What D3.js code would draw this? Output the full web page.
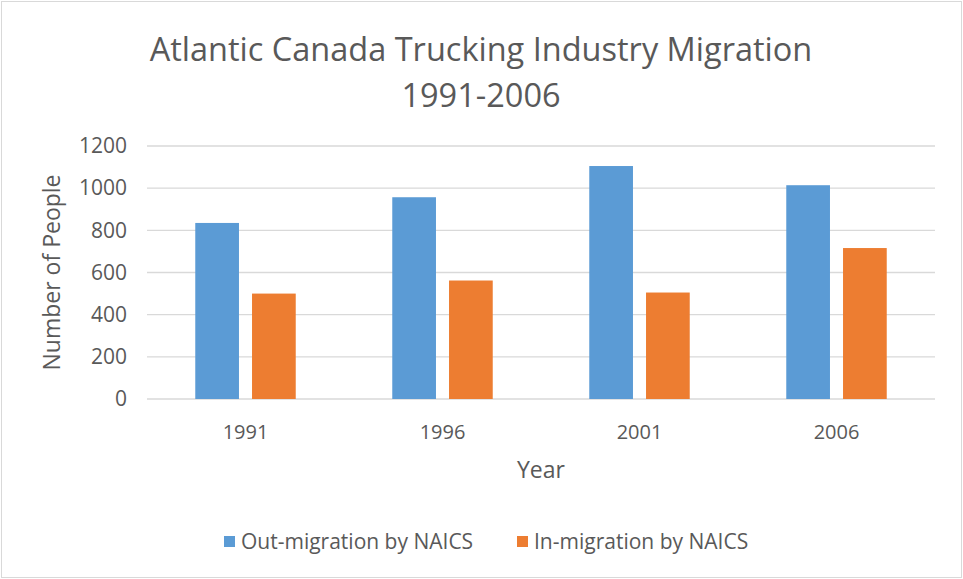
<!DOCTYPE html>
<html lang="en">
<head>
  <meta charset="UTF-8">
  <title>Atlantic Canada Trucking Industry Migration</title>
  <style>
  body { margin: 0; background: #fff; }
  #chart { display: block; }
  text { font-family: "Open Sans", "Noto Sans", sans-serif; fill: #595959; }
  .grid line { stroke: #d9d9d9; stroke-width: 1.3; }
  </style>
</head>
<body>
<svg id="chart"></svg>
<script src="https://d3js.org/d3.v7.min.js"></script>
<script>
// Data
const years = ["1991", "1996", "2001", "2006"];
const outMigration = [835, 957, 1105, 1014];
const inMigration = [500, 562, 505, 716];
const seriesNames = ["Out-migration by NAICS", "In-migration by NAICS"];
const yTicks = [0, 200, 400, 600, 800, 1000, 1200];

const W = 963, H = 579;
const margin = { top: 146, right: 28, bottom: 180, left: 147 };
const width = W - margin.left - margin.right;
const height = H - margin.top - margin.bottom;
const colors = ["#5b9bd5", "#ed7d31"];

const svg = d3.select("#chart").attr("width", W).attr("height", H);

// outer frame
svg.append("rect")
  .attr("x", 1.5).attr("y", 1.5)
  .attr("width", W - 3).attr("height", H - 3)
  .attr("fill", "#fff").attr("stroke", "#d9d9d9");

const g = svg.append("g").attr("transform", `translate(${margin.left},${margin.top})`);

const x = d3.scaleBand().domain(years).range([0, width]);
const y = d3.scaleLinear().domain([0, 1200]).range([height, 0]);
const x1 = d3.scaleBand().domain([0, 1]).range([x.bandwidth() * 0.245, x.bandwidth() * 0.755]).paddingInner(0.23);

// gridlines
g.append("g").attr("class", "grid")
  .selectAll("line").data(yTicks).enter().append("line")
  .attr("x1", 0).attr("x2", width)
  .attr("y1", d => y(d)).attr("y2", d => y(d));

// y axis labels
const yAxis = g.append("g")
  .call(d3.axisLeft(y).tickValues(yTicks).tickFormat(d3.format("d")).tickSize(0).tickPadding(20));
yAxis.select(".domain").remove();
yAxis.selectAll("text").style("font-size", "21px").style("fill", "#595959");

// x axis labels
const xAxis = g.append("g")
  .attr("transform", `translate(0,${height})`)
  .call(d3.axisBottom(x).tickSize(0).tickPadding(26));
xAxis.select(".domain").remove();
xAxis.selectAll("text").style("font-size", "20px").style("fill", "#595959");

// bars
const rows = years.map((yr, i) => ({ year: yr, values: [outMigration[i], inMigration[i]] }));
g.selectAll(".group").data(rows).enter().append("g")
  .attr("transform", d => `translate(${x(d.year)},0)`)
  .selectAll("rect").data(d => d.values.map((v, k) => ({ k, v }))).enter().append("rect")
  .attr("x", d => x1(d.k))
  .attr("width", x1.bandwidth())
  .attr("y", d => y(d.v))
  .attr("height", d => height - y(d.v))
  .attr("fill", d => colors[d.k]);

// title
svg.append("text")
  .attr("x", 481).attr("y", 61)
  .attr("text-anchor", "middle")
  .style("font-size", "32.5px")
  .text("Atlantic Canada Trucking Industry Migration");
svg.append("text")
  .attr("x", 481).attr("y", 107)
  .attr("text-anchor", "middle")
  .style("font-size", "32.5px")
  .text("1991-2006");

// axis titles
svg.append("text")
  .attr("x", margin.left + width / 2).attr("y", 478)
  .attr("text-anchor", "middle")
  .style("font-size", "23px")
  .text("Year");
svg.append("text")
  .attr("transform", `translate(60,${margin.top + height / 2}) rotate(-90)`)
  .attr("text-anchor", "middle")
  .style("font-size", "23px")
  .text("Number of People");

// legend
const legendX = [224, 517];
const legend = svg.selectAll(".legend").data(seriesNames).enter().append("g")
  .attr("transform", (d, i) => `translate(${legendX[i]},536)`);
legend.append("rect")
  .attr("width", 11).attr("height", 11)
  .attr("fill", (d, i) => colors[i]);
legend.append("text")
  .attr("x", 17).attr("y", 13)
  .style("font-size", "21px")
  .text(d => d);
</script>
</body>
</html>
